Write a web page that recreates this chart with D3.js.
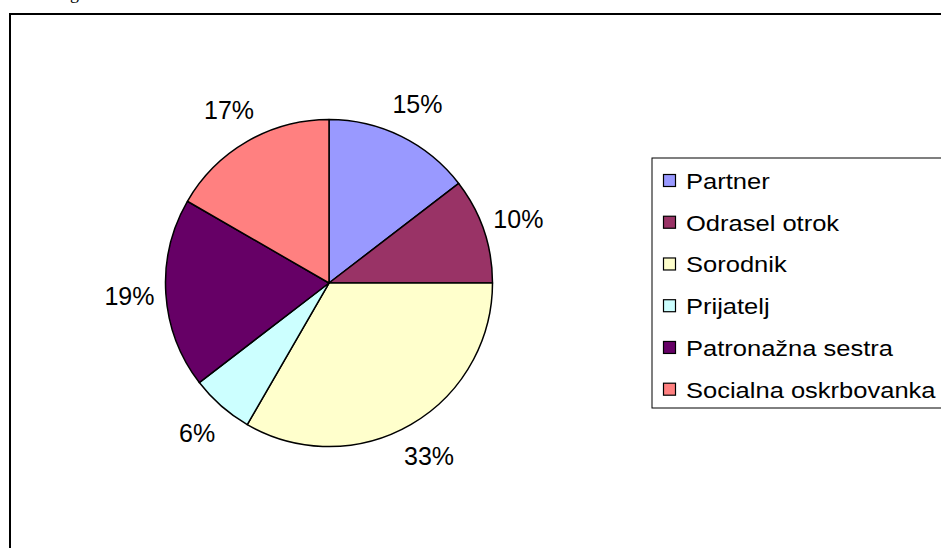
<!DOCTYPE html>
<html>
<head>
<meta charset="utf-8">
<script src="https://cdn.jsdelivr.net/npm/d3@7"></script>
<style>
  html, body { margin: 0; padding: 0; background: #fff; }
  svg { display: block; }
</style>
</head>
<body>
<svg id="chart" width="941" height="548"></svg>
<script>
const categories = ["Partner", "Odrasel otrok", "Sorodnik", "Prijatelj", "Patronažna sestra", "Socialna oskrbovanka"];
const counts = [7, 5, 16, 3, 9, 8];
const colors = ["#9999FF", "#993366", "#FFFFCC", "#CCFFFF", "#660066", "#FF8080"];

const svg = d3.select("#chart");
const W = 941, H = 548;

// fragment of caption text above the frame
svg.append("text")
  .attr("x", 70).attr("y", -1)
  .attr("font-family", "Liberation Serif, Times New Roman, serif")
  .attr("font-size", 18)
  .text("g");

// outer chart frame (extends past the window at right and bottom)
svg.append("rect")
  .attr("x", 10).attr("y", 14)
  .attr("width", 960).attr("height", 560)
  .attr("fill", "#fff")
  .attr("stroke", "#000")
  .attr("stroke-width", 2);

const cx = 329, cy = 283, R = 163.5;
const total = d3.sum(counts);

const pie = d3.pie().sort(null).value(d => d)
  .startAngle(0).endAngle(2 * Math.PI);
const arcs = pie(counts);

const arc = d3.arc().innerRadius(0).outerRadius(R);
const labelArc = d3.arc().innerRadius(200).outerRadius(200);

const g = svg.append("g").attr("transform", `translate(${cx},${cy})`);

g.selectAll("path.slice")
  .data(arcs)
  .join("path")
  .attr("class", "slice")
  .attr("d", arc)
  .attr("fill", (d, i) => colors[i])
  .attr("stroke", "#000")
  .attr("stroke-width", 1.5)
  .attr("stroke-linejoin", "round");

const pct = d3.format(".0%");
g.selectAll("text.lbl")
  .data(arcs)
  .join("text")
  .attr("class", "lbl")
  .attr("transform", d => {
    const [x, y] = labelArc.centroid(d);
    return `translate(${x},${y})`;
  })
  .attr("text-anchor", "middle")
  .attr("dy", "0.36em")
  .attr("font-family", "Liberation Sans, Arial, sans-serif")
  .attr("font-size", 25)
  .attr("fill", "#000")
  .text(d => pct(d.data / total));

// legend
const legendX = 652, legendTop = 158, legendBottom = 408;
svg.append("rect")
  .attr("x", legendX).attr("y", legendTop)
  .attr("width", 400).attr("height", legendBottom - legendTop)
  .attr("fill", "#fff")
  .attr("stroke", "#000")
  .attr("stroke-width", 1);

const rowY = d3.scalePoint().domain(categories).range([181, 389.7]);

const items = svg.append("g").selectAll("g.item")
  .data(categories)
  .join("g")
  .attr("class", "item")
  .attr("transform", d => `translate(0,${rowY(d)})`);

items.append("rect")
  .attr("x", 663.5).attr("y", -6.5)
  .attr("width", 12).attr("height", 12)
  .attr("fill", (d, i) => colors[i])
  .attr("stroke", "#000")
  .attr("stroke-width", 1.2);

items.append("text")
  .attr("transform", "translate(686,0) scale(1.16,1)")
  .attr("dy", "0.36em")
  .attr("font-family", "Liberation Sans, Arial, sans-serif")
  .attr("font-size", 22)
  .attr("fill", "#000")
  .text(d => d);
</script>
</body>
</html>
